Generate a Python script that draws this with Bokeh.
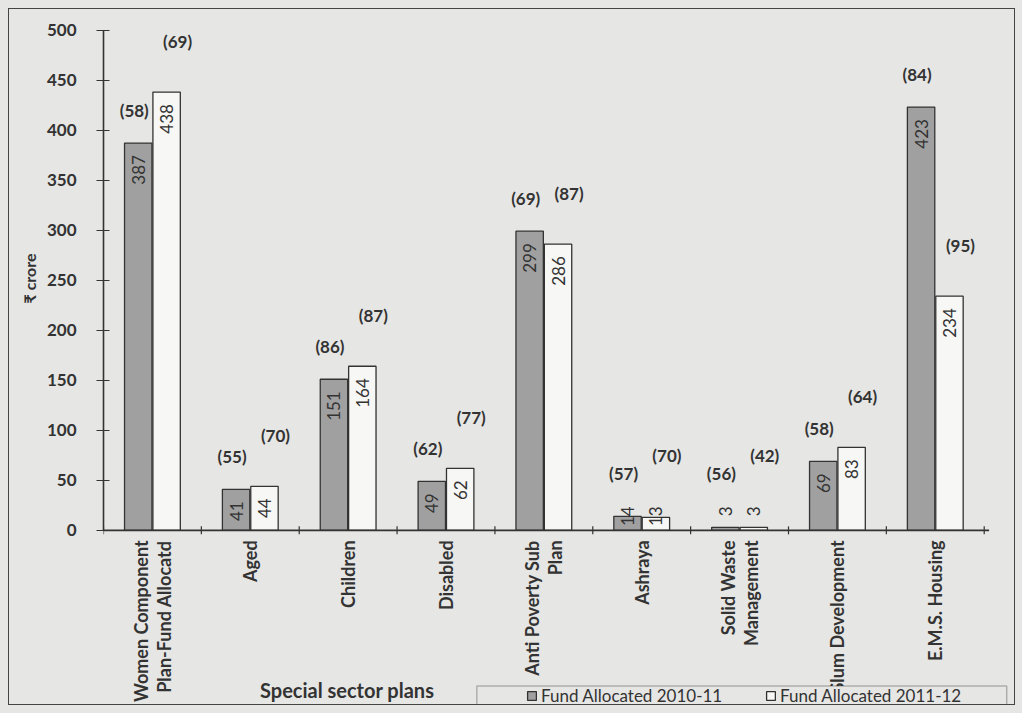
from math import pi
from bokeh.plotting import figure
from bokeh.models import (ColumnDataSource, FixedTicker, Legend, LegendItem,
                          Label, Range1d, Title, BoxAnnotation)
from bokeh.embed import file_html
from bokeh.resources import INLINE
from bokeh.core.properties import value

categories = ["Women Component\nPlan-Fund Allocatd", "Aged", "Children", "Disabled",
              "Anti Poverty Sub\nPlan", "Ashraya", "Solid Waste\nManagement",
              "Slum Development", "E.M.S. Housing"]
fund_2010_11 = [387, 41, 151, 49, 299, 14, 3, 69, 423]
fund_2011_12 = [438, 44, 164, 62, 286, 13, 3, 83, 234]
pct_2010_11 = [58, 55, 86, 62, 69, 57, 56, 58, 84]
pct_2011_12 = [69, 70, 87, 77, 87, 70, 42, 64, 95]
series_names = ["Fund Allocated 2010-11", "Fund Allocated 2011-12"]
y_ticks = [0, 50, 100, 150, 200, 250, 300, 350, 400, 450, 500]
y_title = "₹ crore"
x_title = "Special sector plans"

FONT = "Lato"
INK = "#333333"
BG = "#e6e6e4"
C1 = "#a0a0a0"
C2 = "#f7f7f5"

n = len(categories)
centers = [i + 0.5 for i in range(n)]
bounds = list(range(n + 1))
off, bw = 0.145, 0.28
Y0, Y1 = -176, 502.5

def lab_y(v):
    return max(v - 12, 24)

def pct_y(v, gap):
    return max(v, 24) + gap

s1 = ColumnDataSource(dict(
    x=[c - off for c in centers], top=fund_2010_11,
    ly=[lab_y(v) for v in fund_2010_11], lt=[str(v) for v in fund_2010_11],
    py=[pct_y(v, 22) for v in fund_2010_11], pt=["(%d)" % v for v in pct_2010_11]))
s2 = ColumnDataSource(dict(
    x=[c + off for c in centers], top=fund_2011_12,
    ly=[lab_y(v) for v in fund_2011_12], lt=[str(v) for v in fund_2011_12],
    py=[pct_y(v, 40) for v in fund_2011_12], pt=["(%d)" % v for v in pct_2011_12]))

p = figure(width=1007, height=697, output_backend="svg", toolbar_location=None,
           x_range=Range1d(0, 9.33), y_range=Range1d(Y0, Y1),
           background_fill_color=BG, border_fill_color=BG,
           min_border_left=94, min_border_right=0, min_border_top=18,
           min_border_bottom=0)
p.styles = {"border": "1.5px solid #444"}
p.outline_line_color = None
p.xgrid.grid_line_color = None
p.ygrid.grid_line_color = None
p.xaxis.visible = False

r1 = p.vbar(x="x", top="top", width=bw, source=s1, fill_color=C1,
            line_color="#333333", line_width=1.3)
r2 = p.vbar(x="x", top="top", width=bw, source=s2, fill_color=C2,
            line_color="#333333", line_width=1.3)

for s, dx in ((s1, -4), (s2, 11)):
    p.text(x="x", y="ly", text="lt", source=s, angle=pi / 2,
           text_align="right", text_baseline="middle",
           text_font=value(FONT), text_font_size="17px", text_color=INK)
    p.text(x="x", y="py", text="pt", source=s, x_offset=dx, text_align="center",
           text_baseline="bottom", text_font=value(FONT),
           text_font_style="bold", text_font_size="17px", text_color=INK)

# category axis drawn from the data positions
p.segment(x0=[0], y0=[0], x1=[n + 0.05], y1=[0], line_color=INK, line_width=1.6)
p.segment(x0=bounds, y0=[-4] * len(bounds), x1=bounds, y1=[4] * len(bounds),
          line_color=INK, line_width=1.2)
p.text(x=centers, y=[-10] * n, text=categories, angle=pi / 2,
       text_align="right", text_baseline="middle", text_font=value(FONT),
       text_font_style="bold", text_font_size="18px", text_color=INK,
       text_line_height=1.05)

ya = p.yaxis[0]
ya.ticker = FixedTicker(ticks=y_ticks)
ya.bounds = (0, 500)
ya.minor_tick_line_color = None
ya.major_tick_in = 6
ya.major_tick_out = 7
ya.major_tick_line_color = INK
ya.axis_line_color = INK
ya.axis_line_width = 1.6
ya.major_label_text_font = FONT
ya.major_label_text_font_style = "bold"
ya.major_label_text_font_size = "17px"
ya.major_label_text_color = INK
ya.major_label_standoff = 20

p.add_layout(Title(text=y_title, align="left", offset=403, text_font=FONT,
                   text_font_style="bold", text_font_size="16px",
                   text_color=INK), "left")

p.add_layout(Label(x=2.49, y=-160, text=x_title, text_align="center",
                   text_baseline="middle", text_font=FONT,
                   text_font_style="bold", text_font_size="20px",
                   text_color=INK))

p.add_layout(BoxAnnotation(left=3.815, right=9.23, top=-155.6, bottom=Y0,
                           fill_color=BG, fill_alpha=1, line_color="#333333",
                           line_width=1.5))

legend = Legend(items=[LegendItem(label=series_names[0], renderers=[r1]),
                       LegendItem(label=series_names[1], renderers=[r2])],
                orientation="horizontal", location=(423, 0),
                background_fill_alpha=0, border_line_color=None,
                label_text_font=FONT, label_text_font_size="17px",
                label_text_color=INK, glyph_width=11, glyph_height=11,
                label_width=214, spacing=10, padding=3, margin=0,
                label_standoff=4)
p.add_layout(legend, "center")

html = file_html(p, INLINE)
css = ("<style>html, body { background-color: %s !important; } "
       "body { padding: 8px 0 0 8px !important; }</style>" % BG)
html = html.replace("</head>", css + "</head>", 1)
open("out.html", "w").write(html)
